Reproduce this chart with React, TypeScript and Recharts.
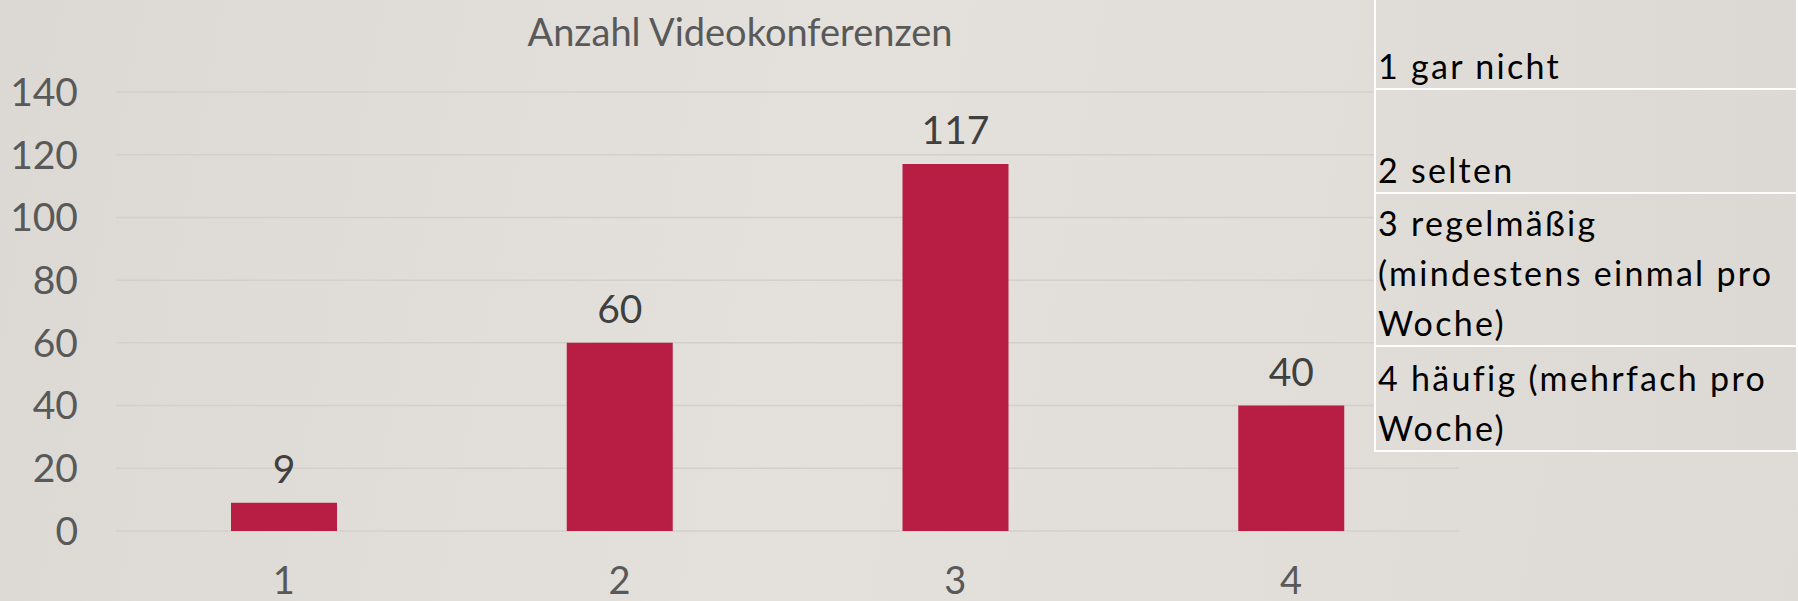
import React from 'react';
import { BarChart, Bar, XAxis, YAxis, CartesianGrid, LabelList } from 'recharts';

const categories = ['1', '2', '3', '4'];
const counts = [9, 60, 117, 40];
const yTicks = [0, 20, 40, 60, 80, 100, 120, 140];
const chartTitle = 'Anzahl Videokonferenzen';
const legendRows: string[][] = [
  ['1 gar nicht'],
  ['2 selten'],
  ['3 regelmäßig', '(mindestens einmal pro', 'Woche)'],
  ['4 häufig (mehrfach pro', 'Woche)'],
];

const data = categories.map((c, i) => ({ name: c, value: counts[i] }));

const FONT = 'Lato, "Open Sans", sans-serif';

export default function App() {
  const rowBottoms = [90, 194, 347, 452];
  return (
    <div
      style={{
        position: 'absolute',
        left: 0,
        top: 0,
        width: 1798,
        height: 601,
        overflow: 'hidden',
        background: 'linear-gradient(100deg, #DCD9D4 0%, #E4E1DC 45%, #DEDBD6 100%)',
        fontFamily: FONT,
      }}
    >
      <div
        style={{
          position: 'absolute',
          left: 0,
          width: 1480,
          top: 8,
          textAlign: 'center',
          fontSize: 38,
          color: '#595959',
          letterSpacing: 0,
        }}
      >
        {chartTitle}
      </div>
      <div style={{ position: 'absolute', left: 0, top: 0 }}>
        <BarChart
          width={1798}
          height={601}
          data={data}
          margin={{ top: 92, right: 339, bottom: 0, left: 1 }}
        >
          <CartesianGrid vertical={false} stroke="#D3D0CB" strokeWidth={1.5} />
          <XAxis
            dataKey="name"
            height={70}
            axisLine={false}
            tickLine={false}
            tickMargin={30}
            tick={{ fill: '#595959', fontSize: 38, fontFamily: FONT }}
          />
          <YAxis
            width={115}
            domain={[0, 140]}
            ticks={yTicks}
            axisLine={false}
            tickLine={false}
            tickMargin={32}
            tick={{ fill: '#595959', fontSize: 39, fontFamily: FONT }}
          />
          <Bar dataKey="value" fill="#B81E43" barSize={106} isAnimationActive={false}>
            <LabelList
              dataKey="value"
              position="top"
              offset={20}
              style={{ fill: '#404040', fontSize: 39, fontFamily: FONT }}
            />
          </Bar>
        </BarChart>
      </div>
      <div
        style={{
          position: 'absolute',
          left: 1374,
          top: 0,
          width: 420,
          borderLeft: '2px solid #FFFFFF',
          borderRight: '2px solid #FFFFFF',
          background: 'linear-gradient(90deg, #E0DDD8 0%, #DCD9D4 100%)',
        }}
      >
        {legendRows.map((lines, i) => (
          <div
            key={i}
            style={{
              height: rowBottoms[i] - (i === 0 ? 0 : rowBottoms[i - 1]),
              borderBottom: '2px solid #FFFFFF',
              boxSizing: 'border-box',
              display: 'flex',
              flexDirection: 'column',
              justifyContent: 'flex-end',
              paddingLeft: 2,
              paddingBottom: 0,
              fontSize: 34,
              letterSpacing: 2.3,
              lineHeight: '50px',
              color: '#000000',
              whiteSpace: 'nowrap',
            }}
          >
            {lines.map((l, j) => (
              <div key={j} style={{ position: 'relative', top: 3 }}>
                {l}
              </div>
            ))}
          </div>
        ))}
      </div>
    </div>
  );
}
